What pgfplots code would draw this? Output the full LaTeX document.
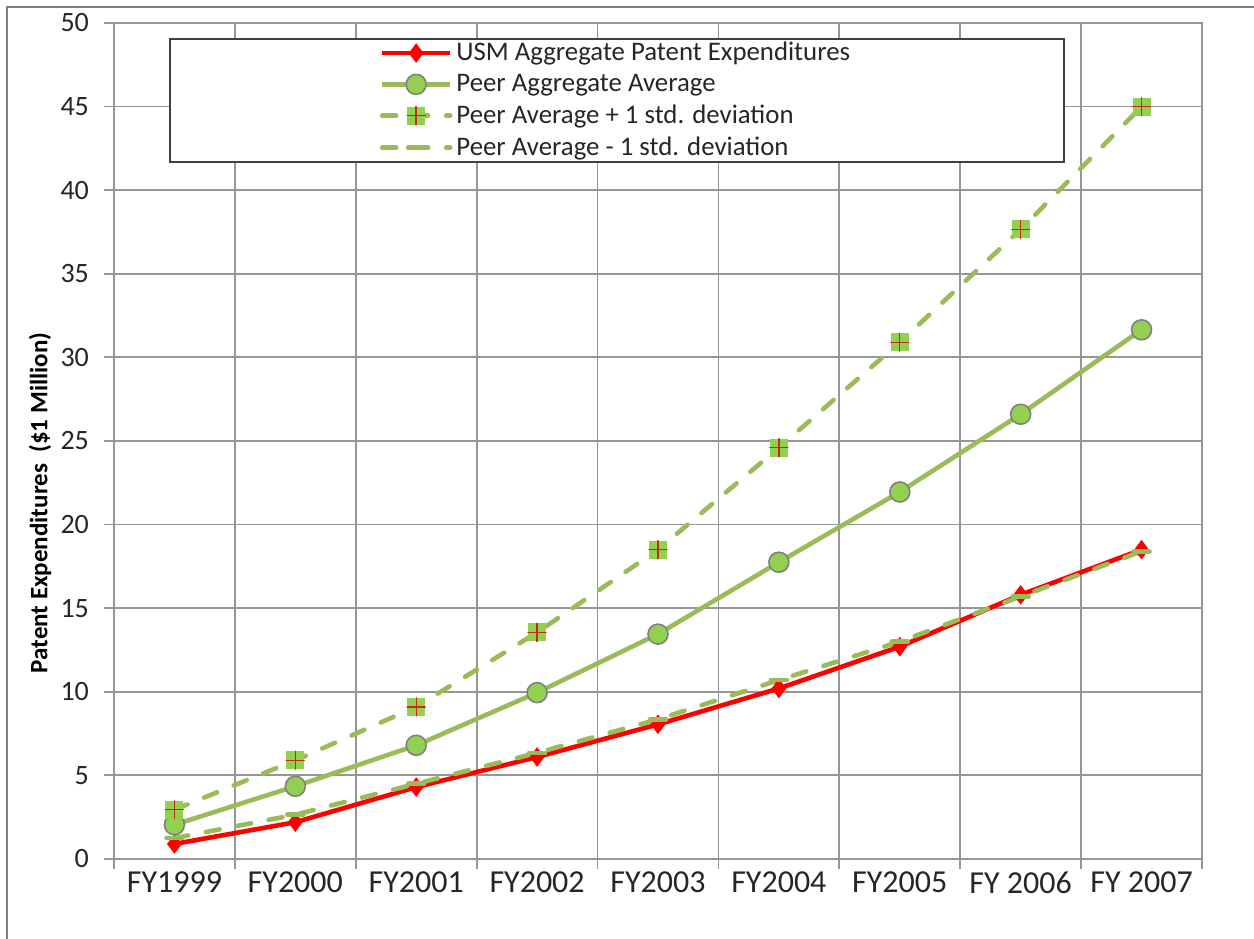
\documentclass[border=0pt]{standalone}
\usepackage{fontspec}
\setmainfont{Carlito}
\usepackage{pgfplots}
\usepackage{pgfplotstable}
\pgfplotsset{compat=1.18}
\definecolor{peerline}{RGB}{155,187,89}
\definecolor{peerfill}{RGB}{146,208,80}
\definecolor{usmred}{RGB}{255,0,0}
\definecolor{gridgray}{RGB}{150,150,150}
\definecolor{crossred}{RGB}{200,40,20}

\pgfdeclareplotmark{sqplus}{%
  \pgfsetdash{}{0pt}%
  \pgfpathrectangle{\pgfpoint{-\pgfplotmarksize}{-\pgfplotmarksize}}{\pgfpoint{2\pgfplotmarksize}{2\pgfplotmarksize}}%
  \pgfsetfillcolor{peerfill}\pgfusepathqfill
  \pgfsetlinewidth{0.7pt}\pgfsetstrokecolor{crossred}%
  \pgfpathmoveto{\pgfpoint{-\pgfplotmarksize}{0pt}}\pgfpathlineto{\pgfpoint{\pgfplotmarksize}{0pt}}%
  \pgfpathmoveto{\pgfpoint{0pt}{-\pgfplotmarksize}}\pgfpathlineto{\pgfpoint{0pt}{\pgfplotmarksize}}%
  \pgfusepathqstroke}

\pgfplotstableread{
x usm peer plus minus
1 0.9 2.05 2.95 1.25
2 2.2 4.35 5.9 2.65
3 4.3 6.8 9.1 4.5
4 6.1 9.95 13.55 6.35
5 8.05 13.45 18.5 8.35
6 10.2 17.75 24.6 10.7
7 12.7 21.95 30.9 13.0
8 15.8 26.6 37.65 15.7
9 18.5 31.65 45.0 18.4
}\datatable

\begin{document}
\begin{tikzpicture}
\begin{axis}[
  at={(0pt,0pt)}, anchor=south west,
  scale only axis, width=544pt, height=418pt,
  xmin=0.5, xmax=9.5, ymin=0, ymax=50,
  /pgf/number format/assume math mode=true,
  xtick={0.5,1.5,...,9.5}, xticklabels={},
  ytick={0,5,...,50},
  grid=major,
  major grid style={gridgray, line width=0.9pt},
  axis line style={gridgray, line width=0.9pt},
  tick style={gridgray, line width=0.9pt},
  tick align=outside, tick pos=left, major tick length=5pt,
  extra x ticks={1,2,...,9},
  extra x tick labels={FY1999,FY2000,FY2001,FY2002,FY2003,FY2004,FY2005,FY 2006,FY 2007},
  extra x tick style={grid=none, major tick length=0pt,
     tick label style={font=\fontsize{16}{19}\selectfont, text=black!85, yshift=-3pt}},
  yticklabel style={font=\fontsize{14}{17}\selectfont, text=black!85, xshift=-4pt},
  ylabel={\bfseries Patent Expenditures\ \ (\$1 Million)},
  every axis y label/.style={at={(axis description cs:-0.068,0.426)}, rotate=90, anchor=center,
     font=\fontsize{12.5}{15}\selectfont},
  legend cell align=left,
  legend image code/.code={\draw[mark repeat=2,mark phase=2,#1] plot coordinates {(0pt,0pt) (17pt,0pt) (34pt,0pt)};},
  legend style={at={(axis description cs:0.0506,0.982)}, anchor=north west,
     draw=black!75, line width=0.8pt, font=\fontsize{13.4}{16}\selectfont,
     inner xsep=105pt, inner ysep=0.5pt, row sep=2.8pt,
     nodes={inner ysep=1.2pt, text=black!85}},
]
\addplot[usmred, line width=2.3pt, mark=diamond*, mark size=4.5pt, mark options={fill=usmred, draw=usmred, line width=0.5pt}]
  table[x=x, y=usm] {\datatable};
\addlegendentry{USM Aggregate Patent Expenditures}
\addplot[peerline, line width=2.3pt, mark=*, mark size=5pt, mark options={fill=peerfill, draw=gray, line width=0.8pt}]
  table[x=x, y=peer] {\datatable};
\addlegendentry{Peer Aggregate Average}
\addplot[peerline, line width=2.3pt, line cap=round, dash pattern=on 7pt off 9pt, mark=sqplus, mark size=4.5pt]
  table[x=x, y=plus] {\datatable};
\addlegendentry{Peer Average + 1 std. deviation}
\addplot[peerline, line width=2.3pt, line cap=round, dash pattern=on 7pt off 9pt, mark=-, mark size=4pt, mark options={solid}]
  table[x=x, y=minus] {\datatable};
\addlegendentry{Peer Average - 1 std. deviation}
\end{axis}
\draw[gray, line width=0.8pt] (-53.5pt,-40pt) -- (-53.5pt,426pt) -- (571pt,426pt);
\pgfresetboundingbox
\path[use as bounding box] (-57pt,-39.5pt) rectangle (570pt,429.5pt);
\end{tikzpicture}
\end{document}
